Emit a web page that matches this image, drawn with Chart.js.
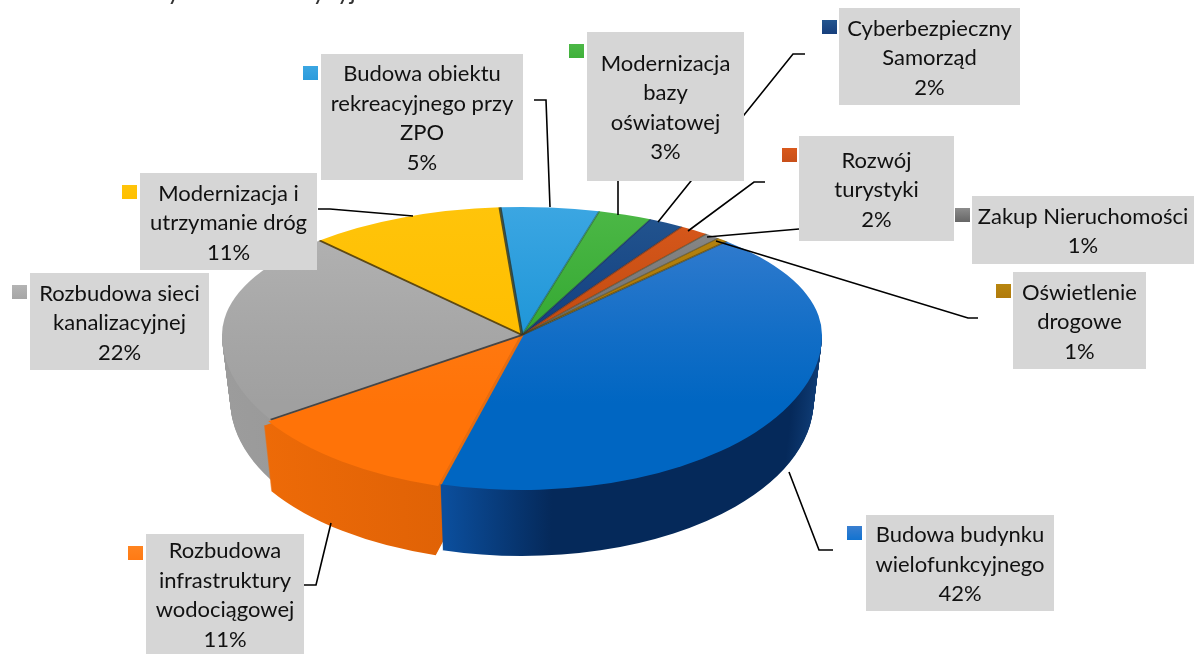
<!DOCTYPE html>
<html>
<head>
<meta charset="utf-8">
<style>
  html, body { margin: 0; padding: 0; background: #fff; }
  #wrap { width: 1194px; height: 654px; position: relative; overflow: hidden; }
</style>
<script src="https://cdn.jsdelivr.net/npm/chart.js@4/dist/chart.umd.min.js"></script>
</head>
<body>
<div id="wrap"><canvas id="pieChart" width="1194" height="654"></canvas></div>
<script>
const categories = ['Budowa budynku wielofunkcyjnego', 'Rozbudowa infrastruktury wodociągowej', 'Rozbudowa sieci kanalizacyjnej', 'Modernizacja i utrzymanie dróg', 'Budowa obiektu rekreacyjnego przy ZPO', 'Modernizacja bazy oświatowej', 'Cyberbezpieczny Samorząd', 'Rozwój turystyki', 'Zakup Nieruchomości', 'Oświetlenie drogowe'];
// they round to the printed percentages
const shares = [42.4, 11.4, 22.4, 10.6, 5.3, 2.9, 1.9, 1.6, 0.8, 0.6];
const labelLines = [
  ['Budowa budynku', 'wielofunkcyjnego'],
  ['Rozbudowa', 'infrastruktury', 'wodociągowej'],
  ['Rozbudowa sieci', 'kanalizacyjnej'],
  ['Modernizacja i', 'utrzymanie dróg'],
  ['Budowa obiektu', 'rekreacyjnego przy', 'ZPO'],
  ['Modernizacja', 'bazy', 'oświatowej'],
  ['Cyberbezpieczny', 'Samorząd'],
  ['Rozwój', 'turystyki'],
  ['Zakup Nieruchomości'],
  ['Oświetlenie', 'drogowe']
];
const croppedTitle = 'Planowane wydatki inwestycyjne w 2016 r.';

// colours: top face upper, top face lower, side left, side mid, side right
const topLight = ['#3a7fd0', '#ff8420', '#b4b4b4', '#ffc40a', '#3ba6e2', '#4cb846', '#23558f', '#d9591c', '#8c8c8c', '#b8860f'];
const topDark = ['#0066c2', '#ff7308', '#a0a0a0', '#ffbe00', '#1f96d8', '#34a832', '#123f80', '#c04a10', '#6e6e6e', '#a87408'];
const sideLeft = ['#0b4e9c', '#f06c08', '#9c9c9c', '#c99700', '#1a78b0', '#2a8a28', '#0f3568', '#9c3c0c', '#5a5a5a', '#8a5f06'];
const sideMid = ['#05295a', '#d65c04', '#8e8e8e', '#c99700', '#1a78b0', '#2a8a28', '#0f3568', '#9c3c0c', '#5a5a5a', '#8a5f06'];
const sideRight = ['#0f3c75', '#c25004', '#8e8e8e', '#c99700', '#1a78b0', '#2a8a28', '#0f3568', '#9c3c0c', '#5a5a5a', '#8a5f06'];
const keyColors = ['#1273d0', '#ff7a14', '#a6a6a6', '#ffc000', '#2b9bdc', '#3fb03a', '#173f7c', '#c8501a', '#666666', '#b07a0c'];
const edgeColors = ['rgba(70,60,20,.6)', '#e66c10', 'rgba(60,60,60,.9)', 'rgba(80,60,10,.9)', 'rgba(40,50,40,.8)', 'rgba(30,80,60,.5)', 'rgba(20,40,80,.6)', 'rgba(90,40,20,.6)', 'rgba(70,60,30,.6)', 'rgba(70,60,20,.6)'];

// callout layout: box [x, y, w, h], key [x, y], leader polyline
const boxes = [[866, 515, 188, 96], [146, 534, 158, 120], [30, 273, 179, 97], [140, 173, 177, 97], [321, 54, 202, 126], [587, 32, 157, 149], [839, 8, 181, 97], [799, 136, 155, 105], [972, 196, 222, 68], [1013, 272, 133, 97]];
const keys = [[847, 526], [128, 546], [12, 285], [122, 185], [303, 66], [569, 44], [822, 20], [782, 148], [955, 208], [996, 284]];
const leaders = [
  [[833, 550], [819, 550], [789, 472]],
  [[304, 585], [316, 585], [331, 523]],
  [],
  [[318, 209], [330, 209], [413, 216]],
  [[534, 100], [546, 100], [550, 207]],
  [[618, 181], [618, 215]],
  [[805, 54], [793, 54], [658, 222]],
  [[765, 182], [754, 182], [688, 231]],
  [[799, 229], [707, 237]],
  [[978, 318], [968, 318], [716, 241]]
];

const flatBack = 128 / 300, flatFront = 155 / 300, depth = 66;
const fontFamily = 'Lato, "Open Sans", sans-serif';

function toPie(ctx, cx, cy, sy) {
  ctx.translate(cx, cy);
  ctx.scale(1, sy);
  ctx.translate(-cx, -cy);
}

function slicePath(ctx, el) {
  const mid = (el.startAngle + el.endAngle) / 2;
  const off = el.options.offset || 0;
  const x = el.x + Math.cos(mid) * off, y = el.y + Math.sin(mid) * off;
  ctx.beginPath();
  ctx.moveTo(x, y);
  ctx.arc(x, y, el.outerRadius, el.startAngle, el.endAngle);
  ctx.closePath();
}

const tiltedPie = {
  id: 'tiltedPie',
  beforeDatasetDraw(chart, args) {
    const ctx = chart.ctx, arcs = args.meta.data;
    const cx = arcs[0].x, cy = arcs[0].y, r = arcs[0].outerRadius;
    // side wall, back to front
    [2, 3, 4, 5, 6, 7, 8, 9, 1, 0].forEach(i => {
      const g = ctx.createLinearGradient(cx - r, 0, cx + r, 0);
      g.addColorStop(0, sideLeft[i]);
      g.addColorStop(i === 0 ? 0.37 : 0.6, i === 0 ? sideLeft[i] : sideMid[i]);
      g.addColorStop(i === 0 ? 0.55 : 0.8, sideMid[i]);
      if (i === 0) g.addColorStop(0.95, sideMid[i]);
      g.addColorStop(1, sideRight[i]);
      for (let d = depth; d >= 1; d--) {
        ctx.save();
        ctx.beginPath();
        ctx.rect(0, cy + d, chart.width, chart.height);
        ctx.clip();
        ctx.translate(cx, cy + d);
        ctx.scale(1 - 0.028 * d / depth, flatFront);
        ctx.translate(-cx, -cy);
        ctx.fillStyle = g;
        slicePath(ctx, arcs[i]);
        ctx.fill();
        ctx.restore();
      }
    });
    // top face, two halves so the near side opens up like the perspective view
    [[0, cy, flatBack], [cy, chart.height, flatFront]].forEach(([from, to, sy]) => {
      ctx.save();
      ctx.beginPath();
      ctx.rect(0, from, chart.width, to - from);
      ctx.clip();
      toPie(ctx, cx, cy, sy);
      arcs.forEach(el => el.draw(ctx));
      arcs.forEach((el, i) => {
        const x = el.x + Math.cos(el.startAngle) * r, y = el.y + Math.sin(el.startAngle) * r;
        ctx.beginPath();
        ctx.moveTo(el.x, el.y);
        ctx.lineTo(x, y);
        ctx.lineWidth = i < 5 ? 3 : 2;
        ctx.strokeStyle = edgeColors[i];
        ctx.stroke();
      });
      ctx.restore();
    });
    return false;
  },
  afterDraw(chart) {
    const ctx = chart.ctx;
    ctx.save();
    // leaders go under the boxes, as in the original
    ctx.strokeStyle = '#000';
    ctx.lineWidth = 1.6;
    leaders.forEach(pts => {
      if (!pts.length) return;
      ctx.beginPath();
      pts.forEach((p, j) => j ? ctx.lineTo(p[0], p[1]) : ctx.moveTo(p[0], p[1]));
      ctx.stroke();
    });
    ctx.textAlign = 'center';
    ctx.textBaseline = 'middle';
    ctx.font = '22px ' + fontFamily;
    categories.forEach((name, i) => {
      const b = boxes[i], k = keys[i];
      ctx.fillStyle = '#d6d6d6';
      ctx.fillRect(b[0], b[1], b[2], b[3]);
      const g = ctx.createLinearGradient(0, k[1], 0, k[1] + 14);
      g.addColorStop(0, topLight[i]);
      g.addColorStop(1, keyColors[i]);
      ctx.fillStyle = g;
      ctx.fillRect(k[0], k[1], 15, 14);
      const lines = labelLines[i].concat(Math.round(shares[i]) + '%');
      const mid = b[1] + b[3] / 2 + 1.5;
      ctx.fillStyle = '#111';
      lines.forEach((t, j) => ctx.fillText(t, b[0] + b[2] / 2, mid + (j - (lines.length - 1) / 2) * 29.5));
    });
    // title line, cut off by the top edge of the picture
    ctx.textAlign = 'left';
    ctx.textBaseline = 'alphabetic';
    ctx.fillStyle = '#333';
    ctx.font = '25px ' + fontFamily;
    ctx.fillText(croppedTitle, 21, 0);
    ctx.restore();
  }
};

new Chart(document.getElementById('pieChart'), {
  type: 'pie',
  data: {
    labels: categories,
    datasets: [{
      data: shares,
      radius: 300,
      borderWidth: 0,
      offset: shares.map((v, i) => i === 1 ? 12 : 0),
      backgroundColor: ctx => {
        const c = ctx.chart.ctx, a = ctx.chart.chartArea;
        if (!a) return keyColors[ctx.dataIndex];
        const g = c.createLinearGradient(0, 35, 0, 635);
        const i = ctx.dataIndex;
        if (i < 3) {
          g.addColorStop(0, topLight[i]);
          g.addColorStop(0.72, topDark[i]);
          g.addColorStop(1, topDark[i]);
        } else {
          g.addColorStop(0, topLight[i]);
          g.addColorStop(0.5, topDark[i]);
        }
        return g;
      }
    }]
  },
  options: {
    responsive: false,
    animation: false,
    rotation: 43,
    layout: { padding: { left: 0, right: 150, top: 16, bottom: 0 } },
    plugins: { legend: { display: false }, tooltip: { enabled: false } }
  },
  plugins: [tiltedPie]
});
</script>
</body>
</html>
